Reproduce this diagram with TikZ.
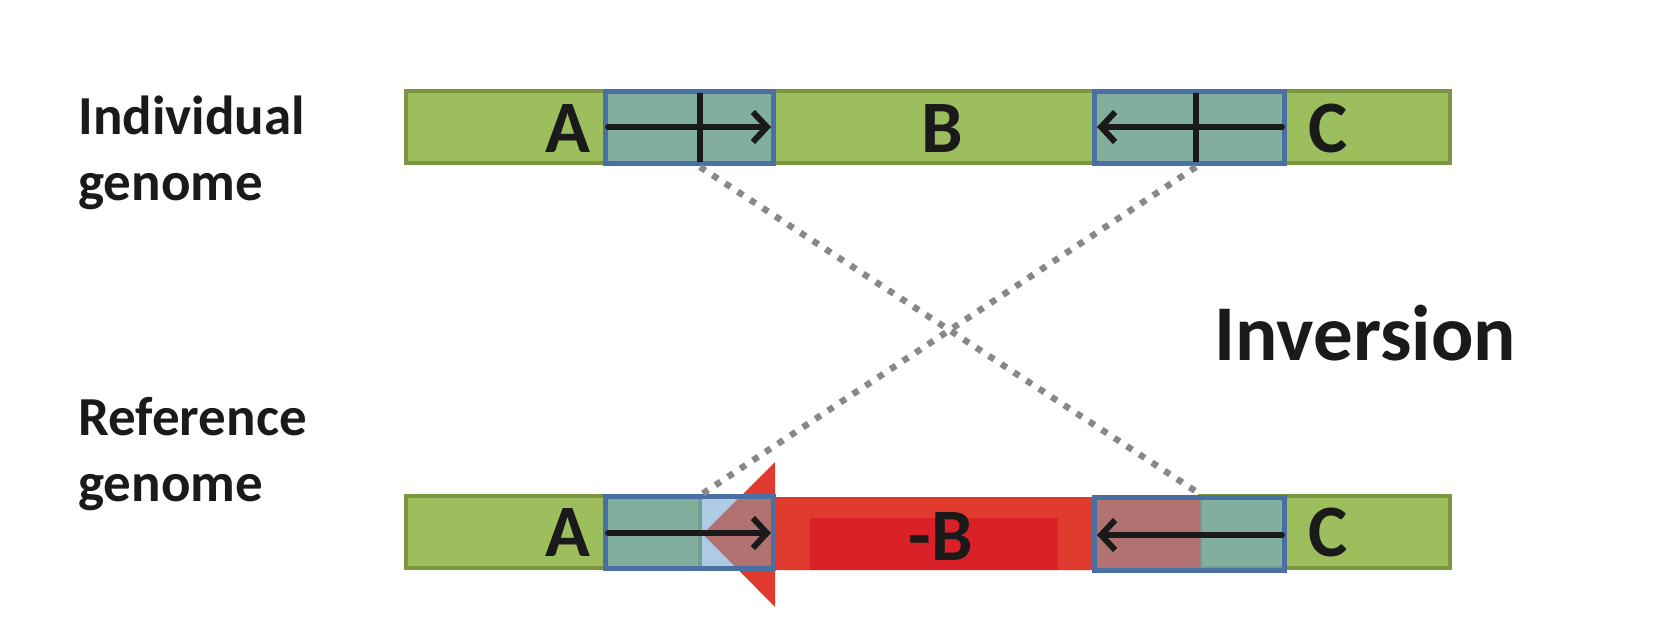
\documentclass[tikz,border=0pt]{standalone}
\usepackage{fontspec}
\setmainfont{Carlito}
\usetikzlibrary{arrows.meta}
\definecolor{gfill}{RGB}{157,190,92}
\definecolor{gline}{RGB}{122,150,64}
\definecolor{bfill}{RGB}{111,164,207}
\definecolor{bline}{RGB}{74,112,163}
\definecolor{rfill}{RGB}{222,58,46}
\definecolor{rinner}{RGB}{218,33,40}
\definecolor{rosy}{RGB}{178,114,114}
\definecolor{dotgray}{RGB}{136,136,136}
\definecolor{ink}{RGB}{26,26,26}
\begin{document}
\begin{tikzpicture}[x=0.5pt,y=-0.5pt,
  greenbar/.style={draw=gline, fill=gfill, line width=2.3pt, inner sep=0pt, minimum height=36pt},
  bluefill/.style={fill=bfill, fill opacity=0.57},
  bluebox/.style={draw=bline, line width=2.5pt, inner sep=0pt, minimum height=36pt},
  tickline/.style={draw=ink, line width=3pt},
  dirarrow/.style={draw=ink, line width=3pt, line cap=round, -{Straight Barb[length=7pt,width=15pt]}},
  dotline/.style={draw=dotgray, line width=3.2pt, dash pattern=on 3.2pt off 4.3pt},
  letter/.style={font=\bfseries\fontsize{37pt}{40pt}\selectfont, text=ink, inner sep=0pt, anchor=base},
  rowlabel/.style={font=\bfseries\fontsize{27.5pt}{33pt}\selectfont, text=ink, inner sep=0pt, align=left, anchor=north west},
  title/.style={font=\bfseries\fontsize{39.5pt}{42pt}\selectfont, text=ink, inner sep=0pt, anchor=base west}
]
\useasboundingbox (0,0) rectangle (1674,617);

% labels
\node[rowlabel] (indiv) at (78,96) {Individual\\genome};
\node[rowlabel] (refg) at (78,397) {Reference\\genome};
\node[title] (inv) at (1214,360) {Inversion};

% top row
\node[greenbar, minimum width=522pt] (top) at (928,127) {};
\fill[bluefill] (605,91) rectangle (773,163);
\fill[bluefill] (1094,91) rectangle (1284,163);
\node[bluebox, minimum width=84pt] (topA) at (689,127) {};
\node[bluebox, minimum width=95pt] (topC) at (1189,127) {};
\draw[tickline] (700,93) -- (700,162);
\draw[tickline] (1196,93) -- (1196,162);
\coordinate (tAs) at (608,127);
\coordinate (tAe) at (771,127);
\coordinate (tCs) at (1282,127);
\coordinate (tCe) at (1097,127);
\draw[dirarrow] (tAs) -- (tAe);
\draw[dirarrow] (tCs) -- (tCe);
\node[letter] (lA1) at (568,152) {A};
\node[letter] (lB1) at (942,152) {B};
\node[letter] (lC1) at (1328,152) {C};

% bottom row
\node[greenbar, minimum width=147pt] (botA) at (553,532) {};
\node[greenbar, minimum width=125pt] (botC) at (1325,532) {};
\def\redarrowpath{(1200,497) -- (775,497) -- (775,462) -- (703,534) -- (775,607) -- (775,570) -- (1200,570) -- cycle}
\fill[rfill] \redarrowpath;
\fill[rinner] (810,518) rectangle (1058,570);
\fill[bluefill] (605,496) rectangle (773,568);
\fill[bluefill] (1094,498) rectangle (1284,571);
\begin{scope}
  \clip (605,496) rectangle (773,568);
  \fill[rosy] \redarrowpath;
\end{scope}
\begin{scope}
  \clip (1094,498) rectangle (1284,571);
  \fill[rosy] \redarrowpath;
\end{scope}
\node[bluebox, minimum width=84pt] (bA) at (689,532) {};
\node[bluebox, minimum width=95pt, minimum height=36.5pt] (bC) at (1189,534) {};
\coordinate (bAs) at (608,533);
\coordinate (bAe) at (771,533);
\coordinate (bCs) at (1282,535);
\coordinate (bCe) at (1097,535);
\draw[dirarrow] (bAs) -- (bAe);
\draw[dirarrow] (bCs) -- (bCe);
\node[letter] (lA2) at (568,556) {A};
\node[letter] (lB2) at (941,560) {-B};
\node[letter] (lC2) at (1328,556) {C};

% crossing dotted links
\coordinate (upA) at (700,167);
\coordinate (upC) at (1196,167);
\coordinate (loA) at (702,494);
\coordinate (loC) at (1200,494);
\draw[dotline] (upA) -- (loC);
\draw[dotline] (upC) -- (loA);
\end{tikzpicture}
\end{document}
